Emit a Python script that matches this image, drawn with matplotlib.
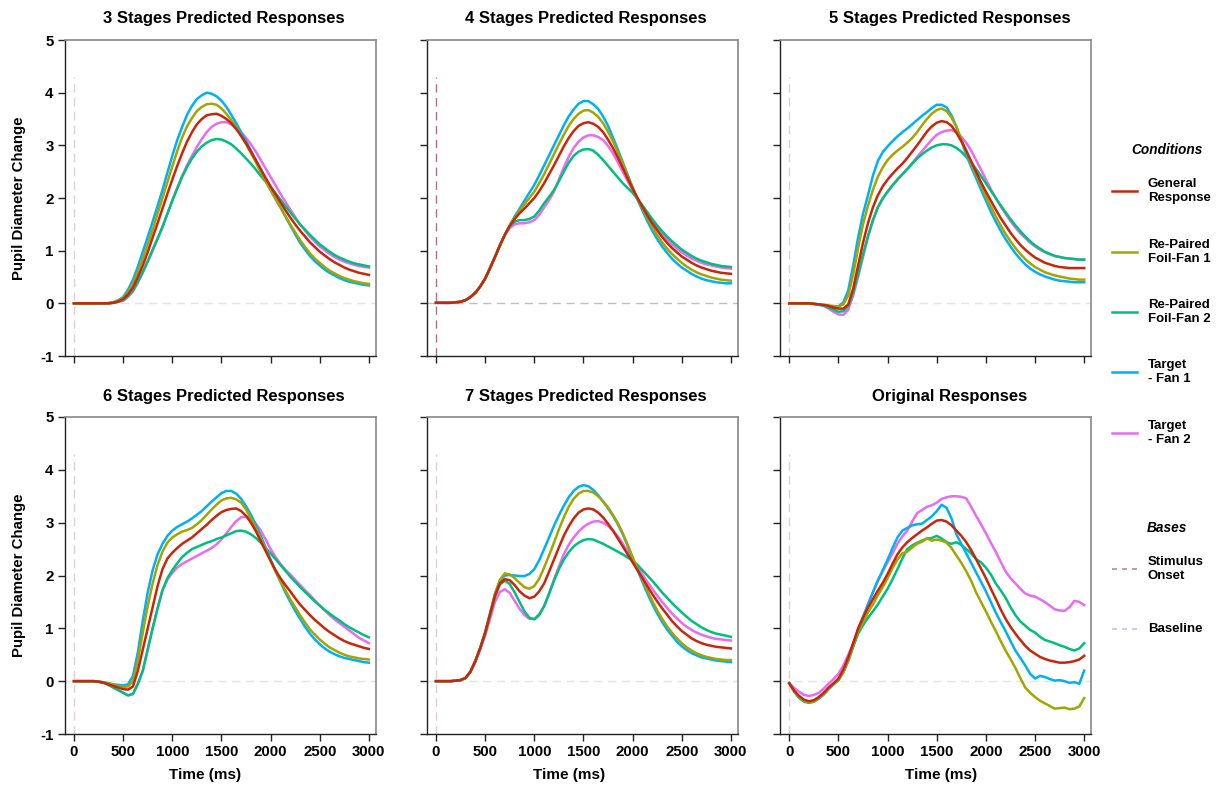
import matplotlib
matplotlib.use("Agg")
import matplotlib.pyplot as plt
from matplotlib.lines import Line2D

plt.rcParams['font.family'] = ['Liberation Sans', 'DejaVu Sans']
plt.rcParams['font.weight'] = 'bold'

# ---------------------------------------------------------------- data
TIME = list(range(0, 3001, 50))

# 3 stages
S3_GR  = [0, 0, 0, 0, 0, 0, 0, 0, 0.01, 0.035, 0.08, 0.17, 0.30, 0.50, 0.72, 0.97, 1.25, 1.52, 1.80, 2.08, 2.35, 2.61, 2.85, 3.07, 3.25, 3.40, 3.50, 3.57, 3.59, 3.60, 3.56, 3.50, 3.42, 3.31, 3.18, 3.04, 2.88, 2.72, 2.55, 2.38, 2.22, 2.07, 1.92, 1.77, 1.63, 1.50, 1.38, 1.27, 1.16, 1.07, 0.98, 0.91, 0.84, 0.78, 0.73, 0.68, 0.64, 0.61, 0.58, 0.56, 0.54]
S3_FF1 = [0, 0, 0, 0, 0, 0, 0, 0.005, 0.02, 0.05, 0.10, 0.21, 0.38, 0.60, 0.85, 1.12, 1.40, 1.70, 2.00, 2.30, 2.60, 2.89, 3.15, 3.36, 3.52, 3.65, 3.73, 3.78, 3.79, 3.77, 3.70, 3.60, 3.48, 3.34, 3.18, 3.02, 2.85, 2.68, 2.50, 2.32, 2.15, 1.99, 1.83, 1.66, 1.50, 1.35, 1.20, 1.07, 0.95, 0.85, 0.77, 0.69, 0.62, 0.57, 0.52, 0.48, 0.45, 0.42, 0.40, 0.38, 0.37]
S3_FF2 = [0, 0, 0, 0, 0, 0, 0, 0, 0.01, 0.03, 0.06, 0.14, 0.25, 0.41, 0.60, 0.80, 1.02, 1.23, 1.45, 1.70, 1.95, 2.18, 2.40, 2.59, 2.75, 2.88, 2.98, 3.05, 3.10, 3.12, 3.11, 3.07, 3.02, 2.94, 2.85, 2.75, 2.65, 2.54, 2.42, 2.31, 2.20, 2.09, 1.97, 1.85, 1.73, 1.61, 1.50, 1.40, 1.30, 1.21, 1.12, 1.05, 0.98, 0.92, 0.87, 0.83, 0.79, 0.76, 0.74, 0.72, 0.70]
S3_TF1 = [0, 0, 0, 0, 0, 0, 0, 0.005, 0.02, 0.06, 0.12, 0.26, 0.45, 0.70, 0.98, 1.26, 1.55, 1.85, 2.15, 2.48, 2.80, 3.10, 3.35, 3.58, 3.75, 3.88, 3.95, 4.00, 3.98, 3.93, 3.85, 3.73, 3.58, 3.42, 3.25, 3.08, 2.90, 2.70, 2.50, 2.32, 2.15, 1.98, 1.82, 1.65, 1.48, 1.31, 1.15, 1.02, 0.90, 0.80, 0.72, 0.64, 0.58, 0.53, 0.48, 0.44, 0.41, 0.39, 0.37, 0.35, 0.34]
S3_TF2 = [0, 0, 0, 0, 0, 0, 0, 0, 0.01, 0.025, 0.05, 0.12, 0.22, 0.39, 0.58, 0.79, 1.00, 1.22, 1.45, 1.70, 1.95, 2.19, 2.42, 2.62, 2.80, 2.97, 3.12, 3.25, 3.35, 3.41, 3.44, 3.44, 3.40, 3.34, 3.25, 3.14, 3.02, 2.88, 2.72, 2.56, 2.40, 2.24, 2.08, 1.93, 1.78, 1.64, 1.50, 1.38, 1.27, 1.17, 1.08, 1.01, 0.94, 0.88, 0.83, 0.79, 0.76, 0.73, 0.71, 0.69, 0.68]

# 4 stages
S4_GR  = [0.01, 0.01, 0.01, 0.01, 0.02, 0.03, 0.06, 0.12, 0.20, 0.32, 0.47, 0.67, 0.88, 1.10, 1.30, 1.47, 1.60, 1.71, 1.80, 1.90, 2.00, 2.13, 2.28, 2.45, 2.62, 2.80, 2.98, 3.14, 3.27, 3.37, 3.42, 3.44, 3.41, 3.35, 3.25, 3.11, 2.95, 2.77, 2.57, 2.37, 2.18, 2.00, 1.83, 1.67, 1.52, 1.39, 1.26, 1.15, 1.05, 0.97, 0.89, 0.83, 0.77, 0.72, 0.68, 0.65, 0.62, 0.60, 0.58, 0.57, 0.56]
S4_FF1 = [0.01, 0.01, 0.01, 0.01, 0.02, 0.03, 0.06, 0.12, 0.20, 0.32, 0.47, 0.67, 0.88, 1.10, 1.30, 1.48, 1.63, 1.76, 1.88, 2.00, 2.12, 2.28, 2.45, 2.64, 2.83, 3.02, 3.20, 3.37, 3.50, 3.60, 3.66, 3.67, 3.62, 3.54, 3.42, 3.26, 3.08, 2.87, 2.65, 2.42, 2.20, 1.99, 1.80, 1.62, 1.45, 1.30, 1.16, 1.04, 0.94, 0.85, 0.77, 0.70, 0.64, 0.59, 0.55, 0.52, 0.49, 0.47, 0.45, 0.44, 0.43]
S4_FF2 = [0.01, 0.01, 0.01, 0.01, 0.02, 0.03, 0.06, 0.12, 0.20, 0.32, 0.47, 0.67, 0.88, 1.10, 1.30, 1.47, 1.55, 1.58, 1.58, 1.60, 1.65, 1.76, 1.90, 2.02, 2.15, 2.32, 2.50, 2.67, 2.80, 2.88, 2.92, 2.93, 2.90, 2.82, 2.72, 2.61, 2.50, 2.39, 2.28, 2.19, 2.10, 1.98, 1.86, 1.73, 1.60, 1.48, 1.37, 1.27, 1.18, 1.10, 1.02, 0.96, 0.90, 0.85, 0.81, 0.78, 0.75, 0.73, 0.71, 0.70, 0.69]
S4_TF1 = [0.01, 0.01, 0.01, 0.01, 0.02, 0.03, 0.06, 0.12, 0.20, 0.32, 0.47, 0.67, 0.88, 1.10, 1.30, 1.48, 1.65, 1.80, 1.95, 2.10, 2.25, 2.43, 2.62, 2.81, 3.00, 3.19, 3.38, 3.55, 3.68, 3.79, 3.84, 3.84, 3.78, 3.69, 3.55, 3.37, 3.15, 2.92, 2.68, 2.44, 2.20, 1.97, 1.76, 1.56, 1.38, 1.22, 1.08, 0.96, 0.85, 0.76, 0.68, 0.62, 0.56, 0.51, 0.47, 0.44, 0.42, 0.40, 0.39, 0.38, 0.38]
S4_TF2 = [0.01, 0.01, 0.01, 0.01, 0.02, 0.03, 0.06, 0.12, 0.20, 0.32, 0.47, 0.67, 0.88, 1.10, 1.30, 1.43, 1.50, 1.52, 1.52, 1.54, 1.58, 1.68, 1.82, 1.96, 2.12, 2.35, 2.58, 2.78, 2.95, 3.07, 3.15, 3.19, 3.19, 3.16, 3.10, 2.99, 2.85, 2.68, 2.50, 2.32, 2.15, 1.99, 1.84, 1.70, 1.56, 1.44, 1.32, 1.22, 1.12, 1.04, 0.97, 0.91, 0.85, 0.81, 0.77, 0.74, 0.72, 0.70, 0.68, 0.67, 0.66]

# 5 stages
S5_GR  = [0, 0, 0, 0, 0, -0.01, -0.02, -0.03, -0.05, -0.08, -0.10, -0.10, -0.02, 0.28, 0.72, 1.15, 1.52, 1.82, 2.05, 2.22, 2.35, 2.46, 2.56, 2.65, 2.76, 2.88, 3.00, 3.13, 3.26, 3.36, 3.43, 3.46, 3.44, 3.37, 3.24, 3.08, 2.90, 2.70, 2.50, 2.30, 2.12, 1.95, 1.78, 1.62, 1.48, 1.34, 1.22, 1.11, 1.02, 0.94, 0.87, 0.82, 0.77, 0.74, 0.71, 0.69, 0.68, 0.67, 0.67, 0.67, 0.67]
S5_FF1 = [0, 0, 0, 0, 0, -0.01, -0.02, -0.03, -0.04, -0.05, -0.06, -0.02, 0.15, 0.55, 1.05, 1.50, 1.85, 2.15, 2.40, 2.58, 2.72, 2.82, 2.90, 2.97, 3.05, 3.14, 3.25, 3.38, 3.50, 3.60, 3.67, 3.70, 3.65, 3.53, 3.35, 3.12, 2.88, 2.66, 2.45, 2.24, 2.03, 1.84, 1.65, 1.48, 1.32, 1.18, 1.05, 0.94, 0.84, 0.76, 0.69, 0.64, 0.59, 0.56, 0.53, 0.51, 0.49, 0.47, 0.46, 0.45, 0.45]
S5_FF2 = [0, 0, 0, 0, 0, -0.01, -0.02, -0.04, -0.08, -0.12, -0.16, -0.15, -0.05, 0.20, 0.55, 0.93, 1.28, 1.58, 1.82, 1.99, 2.12, 2.24, 2.35, 2.45, 2.55, 2.65, 2.75, 2.83, 2.90, 2.96, 3.00, 3.02, 3.02, 3.00, 2.95, 2.88, 2.78, 2.67, 2.55, 2.42, 2.28, 2.14, 2.00, 1.86, 1.73, 1.60, 1.48, 1.37, 1.27, 1.18, 1.10, 1.04, 0.98, 0.94, 0.90, 0.88, 0.86, 0.85, 0.84, 0.83, 0.83]
S5_TF1 = [0, 0, 0, 0, 0, -0.01, -0.03, -0.04, -0.05, -0.06, -0.06, 0.02, 0.25, 0.72, 1.25, 1.70, 2.05, 2.42, 2.70, 2.87, 2.98, 3.08, 3.17, 3.25, 3.32, 3.40, 3.48, 3.56, 3.63, 3.71, 3.77, 3.77, 3.72, 3.57, 3.35, 3.09, 2.82, 2.59, 2.38, 2.16, 1.95, 1.74, 1.55, 1.38, 1.22, 1.08, 0.95, 0.84, 0.74, 0.66, 0.60, 0.55, 0.51, 0.48, 0.45, 0.43, 0.42, 0.41, 0.40, 0.40, 0.40]
S5_TF2 = [0, 0, 0, 0, 0, -0.01, -0.02, -0.05, -0.10, -0.16, -0.21, -0.22, -0.12, 0.15, 0.50, 0.88, 1.25, 1.56, 1.82, 1.99, 2.12, 2.24, 2.35, 2.45, 2.55, 2.66, 2.78, 2.89, 3.00, 3.11, 3.20, 3.25, 3.28, 3.29, 3.25, 3.16, 3.05, 2.90, 2.72, 2.54, 2.35, 2.17, 2.00, 1.84, 1.70, 1.56, 1.44, 1.33, 1.24, 1.15, 1.08, 1.02, 0.97, 0.93, 0.90, 0.88, 0.86, 0.85, 0.84, 0.83, 0.83]

# 6 stages
S6_GR  = [0, 0, 0, 0, 0, -0.01, -0.03, -0.06, -0.09, -0.12, -0.15, -0.16, -0.10, 0.20, 0.60, 1.00, 1.40, 1.80, 2.12, 2.32, 2.43, 2.52, 2.60, 2.66, 2.72, 2.80, 2.88, 2.96, 3.05, 3.13, 3.20, 3.24, 3.26, 3.27, 3.22, 3.13, 3.00, 2.84, 2.65, 2.46, 2.28, 2.10, 1.95, 1.82, 1.70, 1.57, 1.45, 1.35, 1.25, 1.16, 1.08, 1.00, 0.93, 0.87, 0.81, 0.76, 0.72, 0.69, 0.66, 0.63, 0.61]
S6_FF1 = [0, 0, 0, 0, 0, -0.01, -0.02, -0.04, -0.07, -0.09, -0.11, -0.10, 0.00, 0.40, 0.92, 1.42, 1.85, 2.20, 2.45, 2.62, 2.72, 2.78, 2.83, 2.86, 2.90, 2.97, 3.05, 3.15, 3.25, 3.34, 3.42, 3.46, 3.47, 3.44, 3.38, 3.25, 3.08, 2.90, 2.70, 2.49, 2.28, 2.08, 1.90, 1.72, 1.55, 1.40, 1.25, 1.11, 0.98, 0.88, 0.79, 0.71, 0.64, 0.59, 0.54, 0.50, 0.47, 0.45, 0.43, 0.42, 0.41]
S6_FF2 = [0, 0, 0, 0, 0, -0.01, -0.03, -0.07, -0.12, -0.17, -0.22, -0.27, -0.24, -0.05, 0.20, 0.60, 1.00, 1.38, 1.72, 1.95, 2.10, 2.23, 2.35, 2.43, 2.50, 2.54, 2.58, 2.62, 2.65, 2.69, 2.72, 2.76, 2.80, 2.84, 2.85, 2.83, 2.78, 2.71, 2.62, 2.52, 2.42, 2.31, 2.20, 2.09, 1.98, 1.88, 1.78, 1.69, 1.60, 1.51, 1.43, 1.35, 1.28, 1.21, 1.15, 1.08, 1.02, 0.97, 0.92, 0.87, 0.83]
S6_TF1 = [0, 0, 0, 0, 0, -0.01, -0.02, -0.04, -0.06, -0.07, -0.08, -0.06, 0.10, 0.55, 1.15, 1.68, 2.10, 2.40, 2.60, 2.75, 2.85, 2.92, 2.97, 3.02, 3.08, 3.15, 3.22, 3.31, 3.40, 3.48, 3.56, 3.60, 3.60, 3.55, 3.45, 3.31, 3.15, 2.96, 2.75, 2.53, 2.30, 2.08, 1.88, 1.68, 1.50, 1.33, 1.18, 1.03, 0.90, 0.79, 0.70, 0.62, 0.56, 0.51, 0.47, 0.44, 0.42, 0.40, 0.38, 0.36, 0.35]
S6_TF2 = [0, 0, 0, 0, 0, -0.01, -0.03, -0.07, -0.12, -0.17, -0.22, -0.27, -0.24, -0.05, 0.20, 0.60, 1.00, 1.38, 1.72, 1.92, 2.05, 2.15, 2.22, 2.27, 2.32, 2.37, 2.42, 2.47, 2.52, 2.59, 2.68, 2.80, 2.92, 3.03, 3.10, 3.12, 3.08, 2.98, 2.85, 2.68, 2.50, 2.35, 2.22, 2.11, 2.02, 1.92, 1.82, 1.72, 1.63, 1.53, 1.43, 1.34, 1.25, 1.17, 1.10, 1.03, 0.96, 0.89, 0.82, 0.77, 0.72]

# 7 stages
S7_GR  = [0, 0, 0, 0, 0.01, 0.02, 0.06, 0.18, 0.38, 0.63, 0.92, 1.27, 1.62, 1.85, 1.93, 1.91, 1.82, 1.70, 1.62, 1.57, 1.60, 1.70, 1.85, 2.07, 2.30, 2.53, 2.75, 2.93, 3.08, 3.19, 3.25, 3.27, 3.25, 3.19, 3.10, 2.98, 2.85, 2.70, 2.55, 2.40, 2.25, 2.10, 1.95, 1.80, 1.65, 1.51, 1.38, 1.26, 1.14, 1.04, 0.95, 0.88, 0.81, 0.76, 0.72, 0.69, 0.67, 0.65, 0.64, 0.63, 0.62]
S7_FF1 = [0, 0, 0, 0, 0.01, 0.02, 0.06, 0.18, 0.38, 0.63, 0.92, 1.28, 1.65, 1.92, 2.04, 2.02, 1.95, 1.86, 1.78, 1.75, 1.80, 1.94, 2.15, 2.38, 2.62, 2.87, 3.10, 3.30, 3.45, 3.55, 3.60, 3.60, 3.57, 3.50, 3.40, 3.29, 3.15, 2.99, 2.80, 2.58, 2.35, 2.13, 1.92, 1.72, 1.52, 1.34, 1.18, 1.04, 0.92, 0.81, 0.72, 0.64, 0.58, 0.53, 0.49, 0.46, 0.44, 0.42, 0.41, 0.40, 0.40]
S7_FF2 = [0, 0, 0, 0, 0.01, 0.02, 0.06, 0.18, 0.38, 0.62, 0.90, 1.25, 1.60, 1.83, 1.90, 1.84, 1.68, 1.50, 1.32, 1.20, 1.17, 1.25, 1.42, 1.65, 1.90, 2.12, 2.30, 2.44, 2.55, 2.62, 2.67, 2.69, 2.68, 2.64, 2.60, 2.55, 2.50, 2.45, 2.40, 2.34, 2.28, 2.20, 2.10, 2.00, 1.90, 1.79, 1.68, 1.58, 1.48, 1.39, 1.30, 1.22, 1.14, 1.08, 1.02, 0.97, 0.93, 0.90, 0.88, 0.86, 0.84]
S7_TF1 = [0, 0, 0, 0, 0.01, 0.02, 0.06, 0.18, 0.38, 0.63, 0.92, 1.28, 1.65, 1.90, 2.00, 2.01, 2.00, 1.99, 1.99, 2.03, 2.12, 2.29, 2.50, 2.72, 2.94, 3.14, 3.32, 3.48, 3.60, 3.68, 3.71, 3.69, 3.62, 3.52, 3.40, 3.27, 3.13, 2.97, 2.78, 2.56, 2.33, 2.10, 1.88, 1.66, 1.46, 1.28, 1.12, 0.98, 0.86, 0.75, 0.66, 0.59, 0.53, 0.49, 0.45, 0.43, 0.41, 0.39, 0.38, 0.37, 0.36]
S7_TF2 = [0, 0, 0, 0, 0.01, 0.02, 0.06, 0.17, 0.36, 0.60, 0.86, 1.18, 1.50, 1.69, 1.74, 1.67, 1.52, 1.37, 1.25, 1.18, 1.18, 1.27, 1.42, 1.66, 1.92, 2.17, 2.40, 2.58, 2.72, 2.83, 2.92, 2.98, 3.02, 3.03, 3.00, 2.94, 2.85, 2.74, 2.60, 2.45, 2.30, 2.16, 2.02, 1.88, 1.75, 1.62, 1.50, 1.39, 1.28, 1.19, 1.10, 1.03, 0.97, 0.92, 0.88, 0.85, 0.82, 0.80, 0.79, 0.78, 0.77]

# observed pupil responses
OR_GR  = [-0.04, -0.18, -0.28, -0.35, -0.38, -0.36, -0.30, -0.22, -0.12, -0.04, 0.05, 0.22, 0.45, 0.72, 1.00, 1.20, 1.39, 1.55, 1.71, 1.86, 2.03, 2.22, 2.40, 2.53, 2.63, 2.71, 2.78, 2.85, 2.91, 2.98, 3.04, 3.05, 3.02, 2.95, 2.85, 2.75, 2.63, 2.48, 2.31, 2.13, 1.95, 1.75, 1.56, 1.36, 1.18, 1.03, 0.90, 0.78, 0.67, 0.58, 0.52, 0.46, 0.42, 0.39, 0.37, 0.35, 0.35, 0.36, 0.38, 0.41, 0.48]
OR_FF1 = [-0.04, -0.20, -0.30, -0.37, -0.40, -0.38, -0.32, -0.24, -0.14, -0.05, 0.03, 0.18, 0.40, 0.68, 0.95, 1.12, 1.30, 1.45, 1.62, 1.78, 1.95, 2.14, 2.30, 2.42, 2.45, 2.53, 2.60, 2.64, 2.70, 2.66, 2.68, 2.66, 2.62, 2.52, 2.38, 2.24, 2.08, 1.90, 1.68, 1.50, 1.32, 1.13, 0.95, 0.76, 0.58, 0.42, 0.25, 0.06, -0.12, -0.22, -0.30, -0.37, -0.42, -0.47, -0.52, -0.51, -0.50, -0.53, -0.52, -0.48, -0.32]
OR_FF2 = [-0.04, -0.20, -0.32, -0.39, -0.41, -0.39, -0.33, -0.25, -0.15, -0.06, 0.02, 0.17, 0.38, 0.65, 0.90, 1.06, 1.20, 1.32, 1.45, 1.60, 1.75, 1.93, 2.12, 2.32, 2.50, 2.57, 2.62, 2.66, 2.70, 2.71, 2.75, 2.70, 2.63, 2.60, 2.63, 2.58, 2.50, 2.42, 2.31, 2.25, 2.15, 2.02, 1.85, 1.72, 1.58, 1.40, 1.25, 1.13, 1.05, 0.97, 0.92, 0.84, 0.78, 0.75, 0.72, 0.68, 0.65, 0.61, 0.58, 0.62, 0.72]
OR_TF1 = [-0.04, -0.20, -0.30, -0.38, -0.40, -0.38, -0.33, -0.25, -0.15, -0.06, 0.02, 0.18, 0.40, 0.68, 0.98, 1.22, 1.45, 1.68, 1.90, 2.10, 2.30, 2.52, 2.72, 2.85, 2.90, 2.95, 2.97, 2.98, 3.05, 3.12, 3.22, 3.34, 3.28, 3.08, 2.78, 2.60, 2.42, 2.24, 2.06, 1.88, 1.70, 1.50, 1.30, 1.12, 0.95, 0.76, 0.58, 0.44, 0.30, 0.14, 0.05, 0.10, 0.08, 0.04, 0.01, 0.02, 0.00, -0.03, -0.02, -0.05, 0.20]
OR_TF2 = [-0.04, -0.13, -0.20, -0.26, -0.28, -0.26, -0.22, -0.14, -0.05, 0.04, 0.14, 0.30, 0.50, 0.72, 0.95, 1.20, 1.45, 1.68, 1.90, 2.08, 2.25, 2.42, 2.60, 2.74, 2.85, 3.02, 3.18, 3.24, 3.30, 3.33, 3.38, 3.45, 3.48, 3.50, 3.50, 3.49, 3.46, 3.30, 3.13, 2.97, 2.80, 2.62, 2.45, 2.26, 2.08, 1.95, 1.85, 1.75, 1.66, 1.62, 1.60, 1.55, 1.50, 1.43, 1.36, 1.34, 1.33, 1.40, 1.52, 1.50, 1.44]

PANEL_TITLES = ["3 Stages Predicted Responses", "4 Stages Predicted Responses",
                "5 Stages Predicted Responses", "6 Stages Predicted Responses",
                "7 Stages Predicted Responses", "Original Responses"]
PANEL_SERIES = [
    [S3_GR, S3_FF1, S3_FF2, S3_TF1, S3_TF2],
    [S4_GR, S4_FF1, S4_FF2, S4_TF1, S4_TF2],
    [S5_GR, S5_FF1, S5_FF2, S5_TF1, S5_TF2],
    [S6_GR, S6_FF1, S6_FF2, S6_TF1, S6_TF2],
    [S7_GR, S7_FF1, S7_FF2, S7_TF1, S7_TF2],
    [OR_GR, OR_FF1, OR_FF2, OR_TF1, OR_TF2],
]
CONDITIONS = ["General\nResponse", "Re-Paired\nFoil-Fan 1", "Re-Paired\nFoil-Fan 2",
              "Target\n- Fan 1", "Target\n- Fan 2"]
BASES = ["Stimulus\nOnset", "Baseline"]
X_TICKS = [0, 500, 1000, 1500, 2000, 2500, 3000]
Y_TICKS = [-1, 0, 1, 2, 3, 4, 5]
ONSET_TOP = 4.3

# ---------------------------------------------------------------- style
COLORS = ["#C8260A", "#A3A500", "#00BF7D", "#00B0F6", "#E76BF3"]
DRAW_ORDER = [4, 2, 3, 1, 0]
ONSET_COLOR = "#A9728C"
BASELINE_COLOR = "#AEB9F0"
W, H = 1220, 787

fig = plt.figure(figsize=(W / 100, H / 100), dpi=100)


def fx(px):
    return px / W


def fy(py):
    return 1 - py / H


col_zero_px = [74.0, 436.0, 789.3]
px_per_ms = 0.0983
x_lo, x_hi = -95, 3072
row_top = [40, 417]
row_bot = [356, 734]
title_cx = [224, 586, 950]
title_cy = [19, 396]
xlabel_cx = [205, 569, 941]

for i, title in enumerate(PANEL_TITLES):
    r, c = divmod(i, 3)
    left_px = col_zero_px[c] + x_lo * px_per_ms
    width_px = (x_hi - x_lo) * px_per_ms
    ax = fig.add_axes([fx(left_px), fy(row_bot[r]), width_px / W,
                       (row_bot[r] - row_top[r]) / H])
    ax.set_xlim(x_lo, x_hi)
    ax.set_ylim(-1, 5)

    strong = (i == 1)
    ax.plot([0, 0], [-1, ONSET_TOP], color=ONSET_COLOR, lw=1.0,
            dashes=(6, 4), alpha=1.0 if strong else 0.35, zorder=1)
    ax.axhline(0, color=BASELINE_COLOR, lw=1.0, dashes=(6, 4),
               alpha=0.95 if strong else 0.4, zorder=1)

    series = PANEL_SERIES[i]
    for k in DRAW_ORDER:
        ax.plot(TIME, series[k], color=COLORS[k], lw=1.8,
                solid_joinstyle='round', zorder=3)

    for side in ['left', 'bottom']:
        ax.spines[side].set_color('#222222')
        ax.spines[side].set_linewidth(1.0)
    for side in ['top', 'right']:
        ax.spines[side].set_color('#888888')
        ax.spines[side].set_linewidth(1.2)

    ax.set_xticks(X_TICKS)
    ax.set_yticks(Y_TICKS)
    ax.tick_params(direction='out', length=5, width=1.0, color='#222222',
                   labelsize=10.8, pad=3)
    if c == 0:
        ax.set_yticklabels([str(v) for v in Y_TICKS], fontweight='bold')
    else:
        ax.set_yticklabels([])
    if r == 1:
        ax.set_xticklabels([str(v) for v in X_TICKS], fontweight='bold')
        fig.text(fx(xlabel_cx[c]), fy(775), "Time (ms)", ha='center',
                 va='center', fontsize=11, fontweight='bold')
    else:
        ax.set_xticklabels([])

    fig.text(fx(title_cx[c]), fy(title_cy[r]), title, ha='center',
             va='center', fontsize=12, fontweight='bold')

for r in range(2):
    fig.text(fx(19), fy((row_top[r] + row_bot[r]) / 2), "Pupil Diameter Change",
             rotation=90, ha='center', va='center', fontsize=10.8,
             fontweight='bold')

# ---------------------------------------------------------------- legend
fig.text(fx(1167), fy(150), "Conditions", ha='center', va='center',
         fontsize=9.8, fontweight='bold', style='italic')
cond_y = [191, 252, 312, 372, 433]
for k, label in enumerate(CONDITIONS):
    fig.add_artist(Line2D([fx(1112), fx(1137)], [fy(cond_y[k])] * 2,
                          color=COLORS[k], lw=1.8, transform=fig.transFigure))
    fig.text(fx(1148), fy(cond_y[k]), label, ha='left', va='center',
             fontsize=9.5, fontweight='bold', linespacing=1.25)

fig.text(fx(1167), fy(528), "Bases", ha='center', va='center',
         fontsize=9.8, fontweight='bold', style='italic')
base_y = [569, 629]
base_colors = [ONSET_COLOR, BASELINE_COLOR]
for k, label in enumerate(BASES):
    fig.add_artist(Line2D([fx(1112), fx(1137)], [fy(base_y[k])] * 2,
                          color=base_colors[k], lw=1.2, dashes=(3, 3),
                          alpha=0.85, transform=fig.transFigure))
    fig.text(fx(1148), fy(base_y[k]), label, ha='left', va='center',
             fontsize=9.5, fontweight='bold', linespacing=1.25)

fig.savefig("out.png", dpi=100)
